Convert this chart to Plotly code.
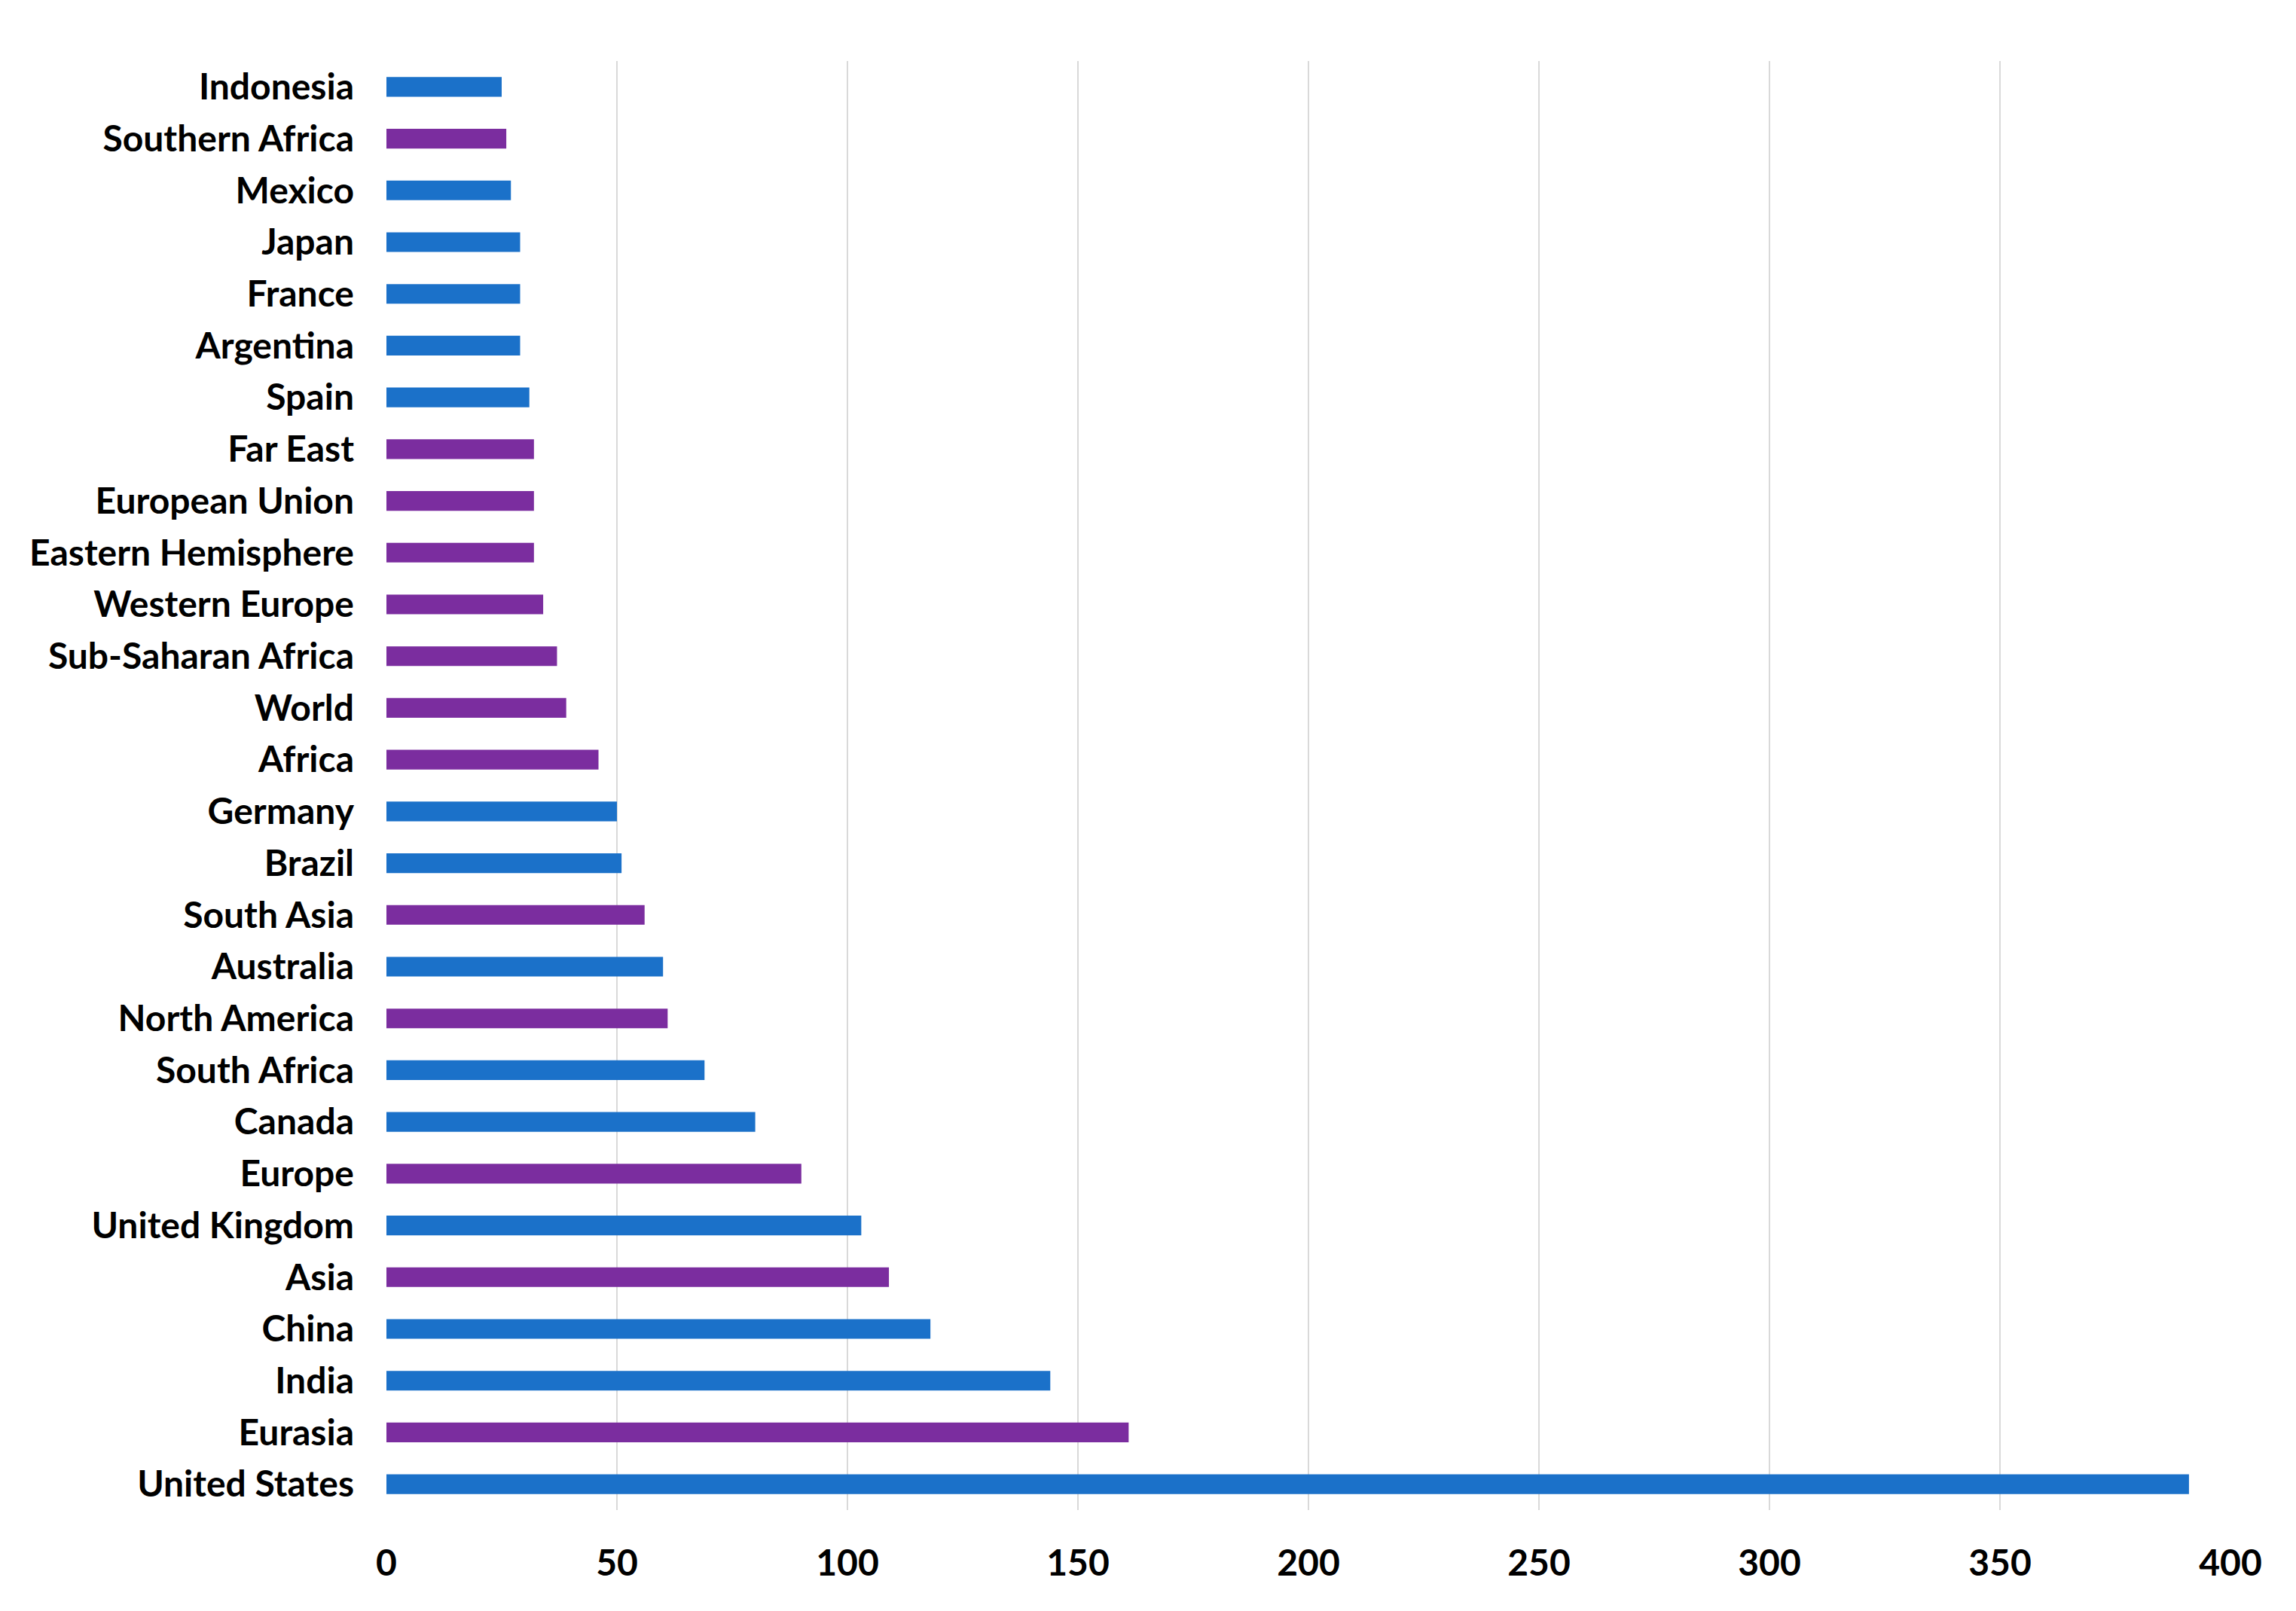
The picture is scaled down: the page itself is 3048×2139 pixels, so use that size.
import plotly.graph_objects as go

categories = [
    "Indonesia", "Southern Africa", "Mexico", "Japan", "France", "Argentina",
    "Spain", "Far East", "European Union", "Eastern Hemisphere", "Western Europe",
    "Sub-Saharan Africa", "World", "Africa", "Germany", "Brazil", "South Asia",
    "Australia", "North America", "South Africa", "Canada", "Europe",
    "United Kingdom", "Asia", "China", "India", "Eurasia", "United States",
]
values = [
    25, 26, 27, 29, 29, 29,
    31, 32, 32, 32, 34,
    37, 39, 46, 50, 51, 56,
    60, 61, 69, 80, 90,
    103, 109, 118, 144, 161, 391,
]
kinds = [
    "country", "region", "country", "country", "country", "country",
    "country", "region", "region", "region", "region",
    "region", "region", "region", "country", "country", "region",
    "country", "region", "country", "country", "region",
    "country", "region", "country", "country", "region", "country",
]
x_ticks = [0, 50, 100, 150, 200, 250, 300, 350, 400]

kind_colors = {"country": "#1B71C9", "region": "#7B2D9F"}
bar_colors = [kind_colors[k] for k in kinds]

font_family = "Lato, 'Liberation Sans', sans-serif"

fig = go.Figure(
    go.Bar(
        x=values,
        y=categories,
        orientation="h",
        marker=dict(color=bar_colors, line=dict(width=0)),
        width=0.38,
        showlegend=False,
    )
)

fig.update_layout(
    width=3048,
    height=2139,
    paper_bgcolor="white",
    plot_bgcolor="white",
    margin=dict(l=505, r=95, t=73, b=142),
    font=dict(family=font_family, size=48, color="#000000", weight="bold"),
)

fig.update_xaxes(
    range=[0, 400],
    tickvals=x_ticks,
    ticktext=[str(v) for v in x_ticks],
    showgrid=True,
    gridcolor="#D9D9D9",
    gridwidth=2,
    zeroline=False,
    showline=False,
    ticks="",
    ticklabelstandoff=38,
    tickfont=dict(family=font_family, size=48, color="#000000", weight="bold"),
)

fig.update_yaxes(
    categoryorder="array",
    categoryarray=categories,
    autorange="reversed",
    showgrid=False,
    zeroline=False,
    showline=False,
    ticks="",
    ticklabelstandoff=42,
    tickfont=dict(family=font_family, size=48, color="#000000", weight="bold"),
)

fig.write_html("out.html")
